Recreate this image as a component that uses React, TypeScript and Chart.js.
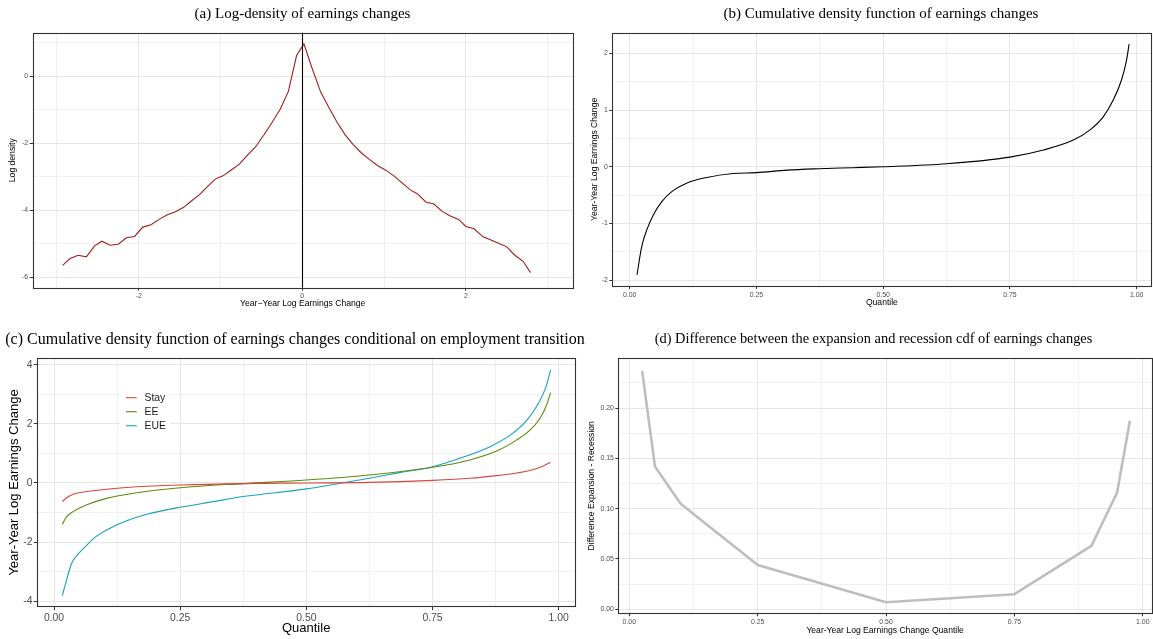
import React, { useEffect, useRef } from "react";
import { Chart, registerables } from "chart.js";
Chart.register(...registerables);

const SANS = '"Liberation Sans", Arial, Helvetica, sans-serif';
const SERIF = '"Liberation Serif", "Times New Roman", Times, serif';

// ---------- Panel (a): log-density ----------
const densityX = [
  -2.93, -2.84, -2.74, -2.64, -2.54, -2.45, -2.35, -2.25, -2.15, -2.05, -1.95, -1.85, -1.75, -1.65, -1.55,
  -1.45, -1.36, -1.26, -1.16, -1.06, -0.97, -0.86, -0.77, -0.67, -0.57, -0.47, -0.37, -0.27, -0.17, -0.07,
  0.02, 0.127, 0.225, 0.32, 0.42, 0.52, 0.62, 0.72, 0.82, 0.92, 1.02, 1.12, 1.22, 1.32, 1.41, 1.51, 1.61,
  1.71, 1.81, 1.91, 2.0, 2.1, 2.21, 2.3, 2.4, 2.5, 2.6, 2.7, 2.79,
];
const densityLog = [
  -5.65, -5.45, -5.35, -5.4, -5.07, -4.93, -5.05, -5.02, -4.83, -4.79, -4.51, -4.44, -4.28, -4.14, -4.05,
  -3.92, -3.74, -3.55, -3.3, -3.07, -2.98, -2.79, -2.63, -2.36, -2.11, -1.76, -1.39, -0.99, -0.46, 0.61,
  0.96, 0.18, -0.48, -0.92, -1.36, -1.74, -2.04, -2.29, -2.49, -2.67, -2.81, -2.98, -3.19, -3.4, -3.52,
  -3.76, -3.82, -4.04, -4.18, -4.28, -4.49, -4.56, -4.8, -4.89, -4.99, -5.1, -5.35, -5.53, -5.87,
];
const densityVLine = 0;
const densityXTicks = [-3, -2, -1, 0, 1, 2, 3];
const densityYTicks = [1, 0, -1, -2, -3, -4, -5, -6];

// ---------- Panel (b): cdf ----------
const cdfQuantile = [
  0.0144, 0.0237, 0.0335, 0.0466, 0.063, 0.083, 0.112, 0.152, 0.204, 0.25, 0.31, 0.373, 0.44, 0.5, 0.625,
  0.75, 0.816, 0.875, 0.908, 0.934, 0.954, 0.97, 0.98, 0.985,
];
const cdfChange = [
  -1.91, -1.41, -1.12, -0.85, -0.62, -0.44, -0.29, -0.19, -0.12, -0.105, -0.06, -0.035, -0.017, 0, 0.053,
  0.17, 0.295, 0.47, 0.65, 0.88, 1.18, 1.53, 1.88, 2.165,
];
const cdfYTicks = [-2, -1.5, -1, -0.5, 0, 0.5, 1, 1.5, 2];
const quantileTicks = [0, 0.125, 0.25, 0.375, 0.5, 0.625, 0.75, 0.875, 1];

// ---------- Panel (c): cdf by transition ----------
const transitionLabels = ["Stay", "EE", "EUE"];
const transitionColors = ["#D9463D", "#5B8C0A", "#17A3B6"];
const stayQuantile = [0.0165, 0.025, 0.038, 0.065, 0.104, 0.157, 0.25, 0.375, 0.5, 0.625, 0.75, 0.824, 0.877, 0.917, 0.943, 0.966, 0.984];
const stayChange = [-0.63, -0.5, -0.38, -0.29, -0.21, -0.135, -0.068, -0.02, 0, 0.02, 0.09, 0.16, 0.25, 0.34, 0.42, 0.55, 0.7];
const eeQuantile = [0.0165, 0.025, 0.038, 0.065, 0.104, 0.157, 0.25, 0.375, 0.5, 0.625, 0.75, 0.824, 0.877, 0.917, 0.943, 0.963, 0.976, 0.984];
const eeChange = [-1.4, -1.14, -0.97, -0.74, -0.52, -0.35, -0.16, -0.02, 0.1, 0.27, 0.53, 0.78, 1.08, 1.46, 1.79, 2.19, 2.64, 3.06];
const eueQuantile = [
  0.0165, 0.025, 0.035, 0.048, 0.065, 0.085, 0.111, 0.144, 0.184, 0.25, 0.316, 0.375, 0.5, 0.567, 0.625,
  0.685, 0.75, 0.81, 0.864, 0.904, 0.937, 0.96, 0.975, 0.984,
];
const eueChange = [
  -3.81, -3.28, -2.72, -2.4, -2.1, -1.79, -1.53, -1.28, -1.06, -0.82, -0.63, -0.46, -0.2, -0.01, 0.16, 0.35,
  0.55, 0.87, 1.23, 1.62, 2.13, 2.7, 3.26, 3.83,
];
const transitionYTicks = [-4, -3, -2, -1, 0, 1, 2, 3, 4];

// ---------- Panel (d): expansion - recession ----------
const diffQuantile = [0.025, 0.05, 0.1, 0.25, 0.5, 0.75, 0.9, 0.95, 0.975];
const diffValue = [0.237, 0.142, 0.105, 0.044, 0.007, 0.015, 0.063, 0.116, 0.1875];
const diffYTicks = [0, 0.025, 0.05, 0.075, 0.1, 0.125, 0.15, 0.175, 0.2, 0.225];

// ---------- helpers ----------
type AxisSpec = {
  min: number;
  max: number;
  ticks: number[];
  majorStep: number;
  fmt: (v: number) => string;
  title: string;
  titleSize: number;
  tickSize: number;
  size: number;
  titlePad: { top?: number; bottom?: number };
  tickLen: number;
  tickPad: number;
};

function makeScale(a: AxisSpec, isX: boolean) {
  const isMajor = (v: number) => Math.abs(v / a.majorStep - Math.round(v / a.majorStep)) < 1e-6;
  return {
    type: "linear",
    position: isX ? "bottom" : "left",
    min: a.min,
    max: a.max,
    afterBuildTicks: (s: any) => {
      s.ticks = a.ticks.map((v) => ({ value: v }));
    },
    afterFit: (s: any) => {
      if (isX) s.height = a.size;
      else s.width = a.size;
    },
    grid: {
      color: (c: any) => (c.tick && isMajor(c.tick.value) ? "#E6E6E6" : "#EDEDED"),
      lineWidth: (c: any) => (c.tick && isMajor(c.tick.value) ? 1 : 0.8),
      drawTicks: true,
      tickLength: a.tickLen,
      tickWidth: 1,
      tickColor: (c: any) => (c.tick && isMajor(c.tick.value) ? "#333333" : "rgba(0,0,0,0)"),
    },
    border: { display: false },
    ticks: {
      autoSkip: false,
      maxRotation: 0,
      minRotation: 0,
      padding: a.tickPad,
      color: "#4D4D4D",
      font: { family: SANS, size: a.tickSize },
      callback: (v: any) => (isMajor(Number(v)) ? a.fmt(Number(v)) : ""),
    },
    title: {
      display: true,
      text: a.title,
      color: "#000000",
      font: { family: SANS, size: a.titleSize },
      padding: a.titlePad,
    },
  };
}

const framePlugin = {
  id: "frame",
  afterDatasetsDraw(chart: any, _args: any, opts: any) {
    const { ctx, chartArea, scales } = chart;
    ctx.save();
    if (opts && typeof opts.vline === "number") {
      const px = Math.round(scales.x.getPixelForValue(opts.vline)) + 0.5;
      ctx.strokeStyle = "#000000";
      ctx.lineWidth = 1.1;
      ctx.beginPath();
      ctx.moveTo(px, chartArea.top);
      ctx.lineTo(px, chartArea.bottom);
      ctx.stroke();
    }
    if (opts && opts.legend) {
      const L = opts.legend;
      const x0 = chartArea.left + L.dx;
      const y0 = chartArea.top + L.dy;
      ctx.fillStyle = "#FFFFFF";
      ctx.fillRect(x0 - 6, y0 - 8, 50, 43);
      ctx.font = `${L.fontSize}px ${SANS}`;
      ctx.textBaseline = "middle";
      ctx.textAlign = "left";
      chart.data.datasets.forEach((ds: any, i: number) => {
        const y = y0 + i * L.rowGap;
        ctx.strokeStyle = ds.borderColor;
        ctx.lineWidth = ds.borderWidth;
        ctx.beginPath();
        ctx.moveTo(x0, y);
        ctx.lineTo(x0 + L.keyLen, y);
        ctx.stroke();
        ctx.fillStyle = "#1A1A1A";
        ctx.fillText(ds.label, x0 + L.textDx, y);
      });
    }
    ctx.strokeStyle = "#333333";
    ctx.lineWidth = 1.1;
    ctx.strokeRect(
      Math.round(chartArea.left) + 0.5,
      Math.round(chartArea.top) + 0.5,
      Math.round(chartArea.right - chartArea.left),
      Math.round(chartArea.bottom - chartArea.top)
    );
    if (opts && opts.heading) {
      const H = opts.heading;
      ctx.fillStyle = "#000000";
      ctx.font = `${H.size}px ${SERIF}`;
      ctx.textAlign = "center";
      ctx.textBaseline = "middle";
      ctx.fillText(H.text, H.cx, H.cy);
    }
    ctx.restore();
  },
};

type PanelSpec = {
  left: number;
  top: number;
  width: number;
  height: number;
  padRight: number;
  padTop: number;
  title: string;
  titleSize: number;
  titleCenter: [number, number];
  x: AxisSpec;
  y: AxisSpec;
  datasets: any[];
  frame: any;
};

function Panel({ spec }: { spec: PanelSpec }) {
  const ref = useRef<HTMLCanvasElement | null>(null);
  useEffect(() => {
    if (!ref.current) return;
    const chart = new Chart(ref.current, {
      type: "line",
      data: { datasets: spec.datasets },
      options: {
        responsive: false,
        animation: false,
        events: [],
        layout: { padding: { left: 0, right: spec.padRight, top: spec.padTop, bottom: 0 } },
        elements: { point: { radius: 0 } },
        scales: { x: makeScale(spec.x, true) as any, y: makeScale(spec.y, false) as any },
        plugins: {
          legend: { display: false },
          tooltip: { enabled: false },
          title: { display: false },
          frame: {
            ...spec.frame,
            heading: {
              text: spec.title,
              size: spec.titleSize,
              cx: spec.titleCenter[0] - spec.left,
              cy: spec.titleCenter[1] - spec.top,
            },
          },
        } as any,
      },
      plugins: [framePlugin],
    } as any);
    return () => chart.destroy();
  }, [spec]);
  return (
    <canvas
      ref={ref}
      width={spec.width}
      height={spec.height}
      style={{ position: "absolute", left: spec.left, top: spec.top, width: spec.width, height: spec.height }}
    />
  );
}

const pts = (xs: number[], ys: number[]) => xs.map((x, i) => ({ x, y: ys[i] }));
const fmt2 = (v: number) => v.toFixed(2);
const fmtInt = (v: number) => String(Math.round(v));

const smallAxis = { titleSize: 8.6, tickSize: 6.9, tickLen: 3, tickPad: 1.5 };

const panels: PanelSpec[] = [
  {
    left: 0, top: 0, width: 578, height: 320, padRight: 5.3, padTop: 32.7,
    title: "(a) Log-density of earnings changes", titleSize: 15, titleCenter: [302.5, 14],
    x: { ...smallAxis, min: -3.296, max: 3.306, ticks: densityXTicks, majorStep: 2, fmt: fmtInt,
      title: "Year\u2212Year Log Earnings Change", size: 32.3, titlePad: { top: 0, bottom: 10.8 } },
    y: { ...smallAxis, min: -6.319, max: 1.293, ticks: densityYTicks, majorStep: 2, fmt: fmtInt,
      title: "Log density", size: 32.7, titlePad: { top: 7.8, bottom: 0 } },
    datasets: [{ label: "density", data: pts(densityX, densityLog), borderColor: "#A11D1D", borderWidth: 1.1, tension: 0 }],
    frame: { vline: densityVLine },
  },
  {
    left: 578, top: 0, width: 575, height: 320, padRight: 1.5, padTop: 32.7,
    title: "(b) Cumulative density function of earnings changes", titleSize: 15, titleCenter: [881, 14],
    x: { ...smallAxis, min: -0.0343, max: 1.0292, ticks: quantileTicks, majorStep: 0.25, fmt: fmt2,
      title: "Quantile", size: 34, titlePad: { top: 0, bottom: 11.8 } },
    y: { ...smallAxis, min: -2.105, max: 2.365, ticks: cdfYTicks, majorStep: 1, fmt: fmtInt,
      title: "Year-Year Log Earnings Change", size: 34.3, titlePad: { top: 11.1, bottom: 0 } },
    datasets: [{ label: "cdf", data: pts(cdfQuantile, cdfChange), borderColor: "#000000", borderWidth: 1.1, cubicInterpolationMode: "monotone" }],
    frame: {},
  },
  {
    left: 0, top: 320, width: 592, height: 319, padRight: 17, padTop: 38.3,
    title: "(c) Cumulative density function of earnings changes conditional on employment transition",
    titleSize: 16, titleCenter: [295, 339.5],
    x: { min: -0.0331, max: 1.0323, ticks: quantileTicks, majorStep: 0.25, fmt: fmt2, titleSize: 13, tickSize: 10.4,
      tickLen: 3.5, tickPad: 1.5, title: "Quantile", size: 32.3, titlePad: { top: 0, bottom: 3.2 } },
    y: { min: -4.188, max: 4.221, ticks: transitionYTicks, majorStep: 2, fmt: fmtInt, titleSize: 13, tickSize: 10.4,
      tickLen: 3.5, tickPad: 1.3, title: "Year-Year Log Earnings Change", size: 37.3, titlePad: { top: 6.2, bottom: 0 } },
    datasets: [
      { label: transitionLabels[0], data: pts(stayQuantile, stayChange), borderColor: transitionColors[0], borderWidth: 1.1, cubicInterpolationMode: "monotone" },
      { label: transitionLabels[1], data: pts(eeQuantile, eeChange), borderColor: transitionColors[1], borderWidth: 1.1, cubicInterpolationMode: "monotone" },
      { label: transitionLabels[2], data: pts(eueQuantile, eueChange), borderColor: transitionColors[2], borderWidth: 1.1, cubicInterpolationMode: "monotone" },
    ],
    frame: { legend: { dx: 88.7, dy: 39.4, rowGap: 14, keyLen: 10.7, textDx: 18.5, fontSize: 10.4 } },
  },
  {
    left: 578, top: 320, width: 575, height: 319, padRight: 1, padTop: 38.3,
    title: "(d) Difference between the expansion and recession cdf of earnings changes",
    titleSize: 14.4, titleCenter: [873.5, 339.5],
    x: { ...smallAxis, min: -0.0214, max: 1.018, ticks: quantileTicks, majorStep: 0.25, fmt: fmt2,
      title: "Year-Year Log Earnings Change Quantile", size: 25.7, titlePad: { top: 0, bottom: 2.8 } },
    y: { ...smallAxis, min: -0.004, max: 0.2495, ticks: diffYTicks, majorStep: 0.05, fmt: fmt2,
      title: "Difference Expansion - Recession", size: 40.3, titlePad: { top: 8.5, bottom: 0 } },
    datasets: [{ label: "diff", data: pts(diffQuantile, diffValue), borderColor: "#BEBEBE", borderWidth: 2.6, borderJoinStyle: "round", tension: 0 }],
    frame: {},
  },
];

export default function App() {
  return (
    <div style={{ position: "absolute", left: 0, top: 0, width: 1153, height: 639, overflow: "hidden", background: "#FFFFFF" }}>
      {panels.map((p, i) => (
        <Panel key={i} spec={p} />
      ))}
    </div>
  );
}
